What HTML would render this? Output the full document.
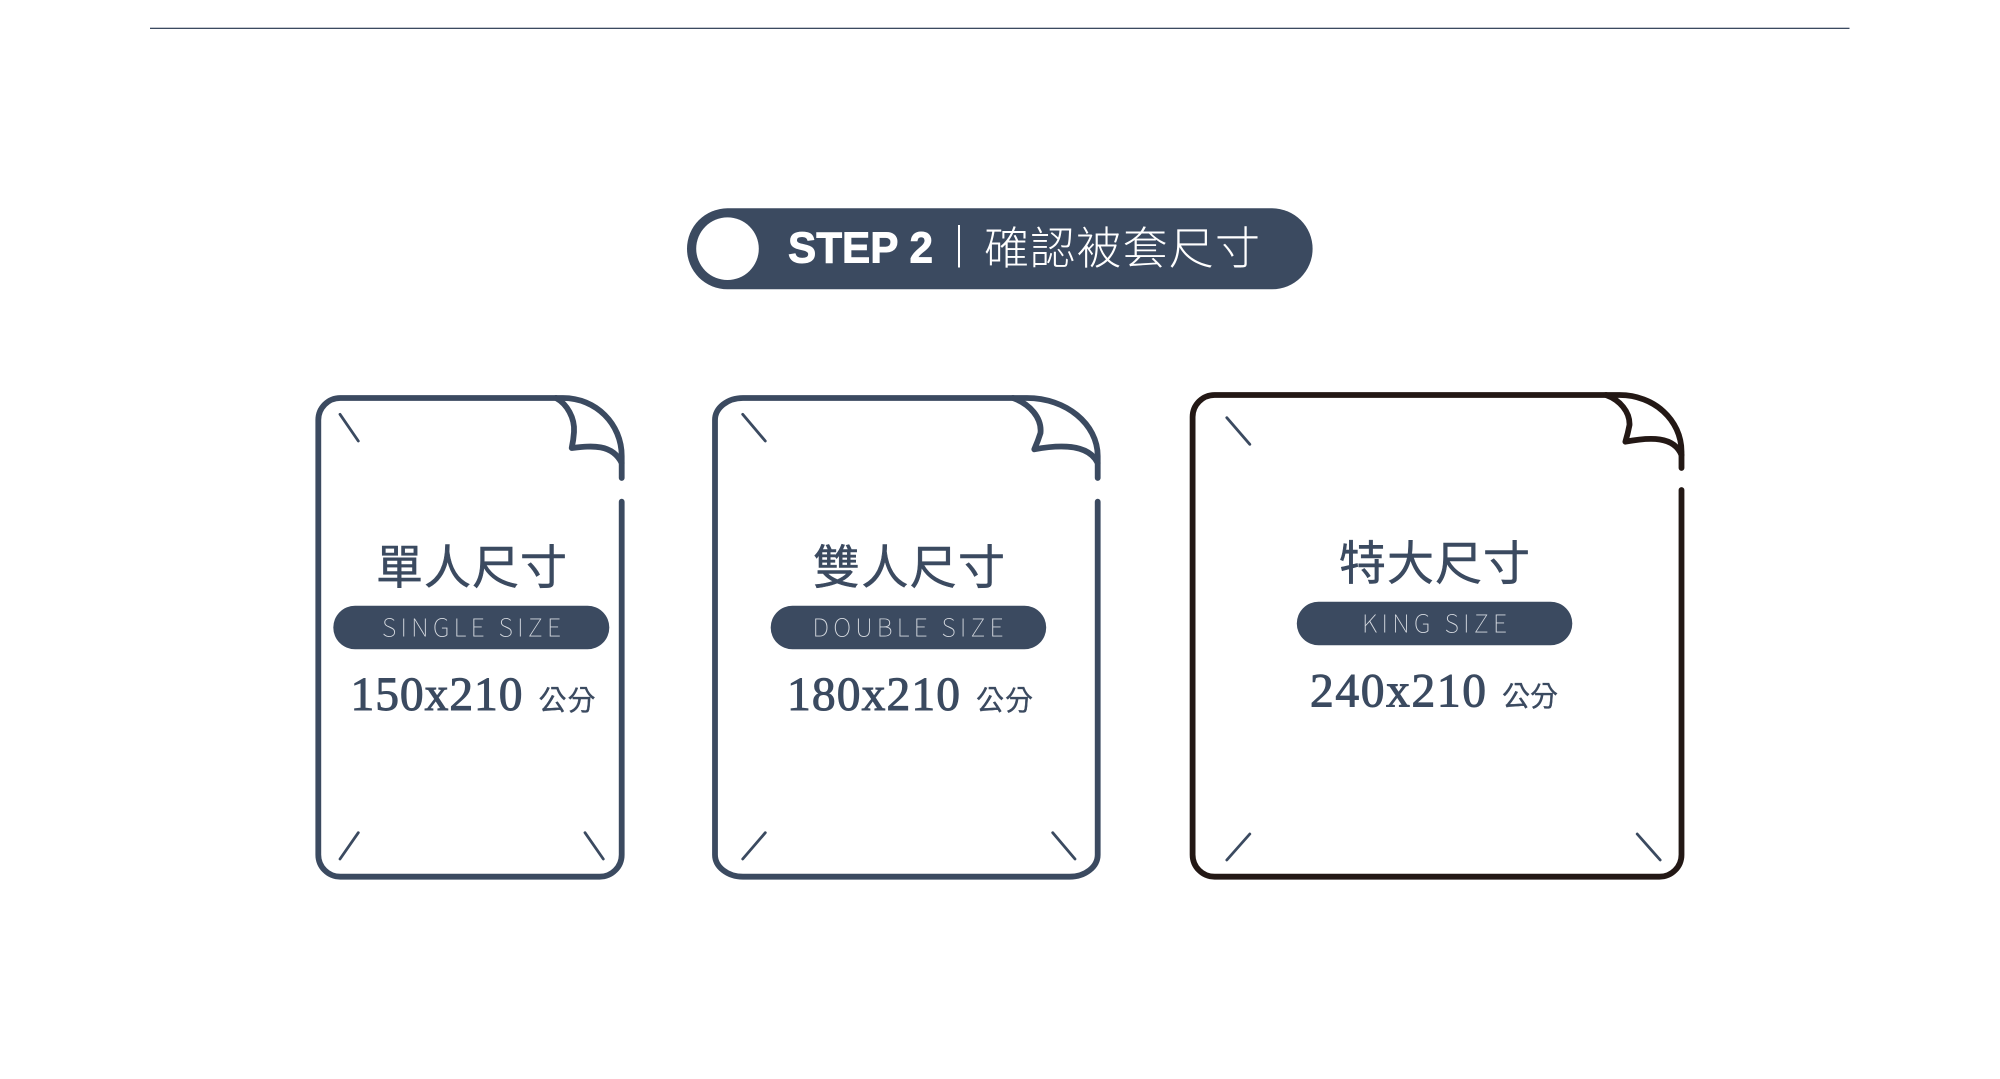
<!DOCTYPE html>
<html><head><meta charset="utf-8"><style>
html,body{margin:0;padding:0;background:#fff;width:2000px;height:1079px;overflow:hidden}
svg{display:block}
.s{fill:none;stroke:#3b4a60;stroke-width:5.8;stroke-linecap:round;stroke-linejoin:round}
.k{fill:none;stroke:#231815;stroke-width:5.8;stroke-linecap:round;stroke-linejoin:round}
.t{fill:none;stroke:#3b4a60;stroke-width:2.8;stroke-linecap:round}
.cn{font-family:"Liberation Sans","Noto Sans CJK TC",sans-serif;fill:#3b4a60}
.title{font-size:47px;stroke:#3b4a60;stroke-width:.5}
.en{font-family:"Noto Sans CJK TC","Liberation Sans",sans-serif;font-weight:100;font-size:25px;fill:#d5d9df}
.num{font-family:"Liberation Serif",serif;font-size:47.5px;fill:#3b4a60;stroke:#3b4a60;stroke-width:1}
.cm{font-size:28px;stroke:#3b4a60;stroke-width:.3}
</style></head><body>
<svg width="2000" height="1079" viewBox="0 0 2000 1079" xmlns="http://www.w3.org/2000/svg">
<rect width="2000" height="1079" fill="#fff"/>
<rect x="150" y="27.7" width="1699.5" height="1.3" fill="#3b4a60"/>

<!-- header -->
<rect x="687" y="208.3" width="625.6" height="81" rx="40.5" fill="#3b4a60"/>
<circle cx="727.5" cy="248.7" r="31.3" fill="#fff"/>
<text x="788" y="262.7" font-family="'Liberation Sans',sans-serif" font-weight="700" font-size="44" fill="#fff" stroke="#fff" stroke-width=".9" textLength="145" lengthAdjust="spacingAndGlyphs">STEP 2</text>
<rect x="958" y="225" width="2" height="42.5" fill="#fff"/>
<text x="984" y="264" class="cn" style="fill:#fff;font-weight:300" font-size="45" textLength="276">確認被套尺寸</text>

<!-- card 1 -->
<path class="s" d="M556 398H340.3a22 22 0 0 0-22 22V854.7a22 22 0 0 0 22 22H599.7a22 22 0 0 0 22-22V501.7"/>
<path class="s" d="M556 398H563C596 398 621.7 424 621.7 456V478"/>
<path class="s" d="M556 398C567 404 575 418 574 432Q573.5 440 571.7 448C590 446 612 443 621.7 463"/>
<path class="t" d="M340 414.3L358.3 441M358.3 832.7L340 859M585 832.7L603.3 859"/>
<text x="376" y="584" class="cn title" textLength="191">單人尺寸</text>
<rect x="333.3" y="605.7" width="276" height="43.6" rx="21.8" fill="#3b4a60"/>
<text x="382" y="636.7" class="en" textLength="179">SINGLE SIZE</text>
<text x="350.5" y="710" class="num" textLength="172">150x210</text>
<text x="538.5" y="710" class="cn cm" textLength="57">公分</text>

<!-- card 2 -->
<path class="s" d="M1013 398H743a28 22 0 0 0-28 22V854.7a28 22 0 0 0 28 22H1069.7a28 22 0 0 0 28-22V501.7"/>
<path class="s" d="M1013 398H1027C1066 398 1097.7 424 1097.7 456V478"/>
<path class="s" d="M1013 398C1030 404 1042 418 1040.5 433Q1038 441 1034.3 449.3C1058 445 1088 443 1097.7 463"/>
<path class="t" d="M742.7 414.3L765.3 441M765.3 832.7L742.7 859M1052.7 832.7L1075 859"/>
<text x="813" y="584" class="cn title" textLength="192">雙人尺寸</text>
<rect x="770.7" y="605.7" width="275.5" height="43.6" rx="21.8" fill="#3b4a60"/>
<text x="812.5" y="636.7" class="en" textLength="191">DOUBLE SIZE</text>
<text x="787" y="710" class="num" textLength="173">180x210</text>
<text x="976" y="710" class="cn cm" textLength="57">公分</text>

<!-- card 3 -->
<path class="k" d="M1606 395H1214.6a22 22 0 0 0-22 22V854.7a22 22 0 0 0 22 22H1659.5a22 22 0 0 0 22-22V490"/>
<path class="k" d="M1606 395H1619.6C1654 395 1681.5 420 1681.5 451.7V468"/>
<path class="k" d="M1606 395C1620 400 1630 412 1629.5 425Q1628 433 1625.4 441.7C1650 437 1674 436 1681.5 455"/>
<path class="t" d="M1226.8 417.7L1249.8 444.3M1249.8 834L1226.8 860M1637.2 834L1660.2 860"/>
<text x="1339" y="580" class="cn title" textLength="191">特大尺寸</text>
<rect x="1296.8" y="601.7" width="275.5" height="43.6" rx="21.8" fill="#3b4a60"/>
<text x="1362" y="632.7" class="en" textLength="145">KING SIZE</text>
<text x="1310" y="706.7" class="num" textLength="176">240x210</text>
<text x="1502" y="706" class="cn cm" textLength="56">公分</text>
</svg>
</body></html>
